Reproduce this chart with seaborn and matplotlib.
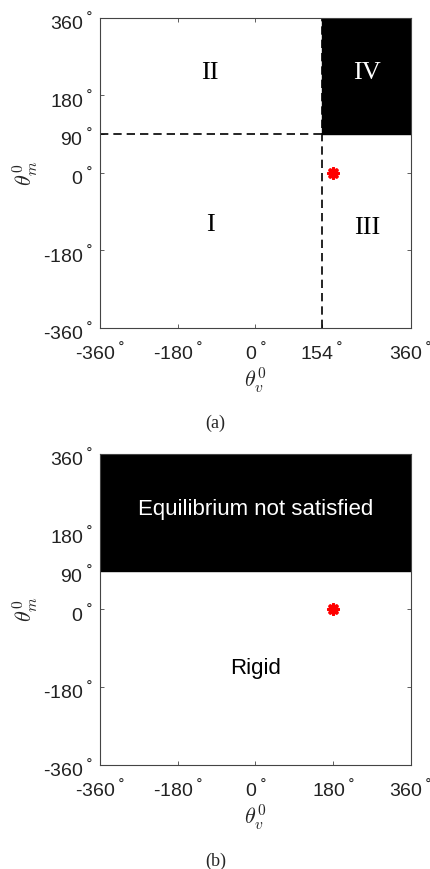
import numpy as np
import pandas as pd
import matplotlib
matplotlib.use("Agg")
import matplotlib.pyplot as plt
import matplotlib.transforms as mtransforms
import seaborn as sns

sns.set_style("ticks")
plt.rcParams['font.family'] = ['Liberation Sans', 'DejaVu Sans']
plt.rcParams['mathtext.fontset'] = 'cm'

# data
theta_range = [-360, 360]
xticks_a = [-360, -180, 0, 154, 360]
xticks_b = [-360, -180, 0, 180, 360]
yticks = [-360, -180, 0, 90, 180, 360]
theta_v_crit = 154
theta_m_crit = 90
point = pd.DataFrame({"theta_v": [180], "theta_m": [0]})

labels_a = ["I", "II", "III", "IV"]
labels_a_pos = [(-105, -120), (-105, 232), (258, -128), (258, 232)]
labels_b = ["Equilibrium not satisfied", "Rigid"]
labels_b_pos = [(0, 231), (0, -137)]


def deg(v):
    return f"{v}$\\,^{{\\degree}}$"


def setup(ax, xt):
    ax.set_xlim(theta_range)
    ax.set_ylim(theta_range)
    ax.set_xticks(xt)
    ax.set_xticklabels([deg(v) for v in xt], fontsize=14, color="#222222",
                       math_fontfamily="dejavusans")
    ax.set_yticks(yticks)
    ax.set_yticklabels([deg(v) for v in yticks], fontsize=14, color="#222222",
                       math_fontfamily="dejavusans")
    ax.tick_params(axis="both", direction="in", length=3, width=0.6, color="#444444",
                   top=True, right=True)
    ax.tick_params(axis="x", pad=10)
    ax.tick_params(axis="y", pad=5)
    # nudge y tick labels down a little (matlab centres the whole label)
    shift = mtransforms.ScaledTranslation(0, -3 / 100, ax.figure.dpi_scale_trans)
    for t in ax.get_yticklabels():
        t.set_transform(t.get_transform() + shift)
    for s in ax.spines.values():
        s.set_color("#444444")
        s.set_linewidth(0.8)
    ax.set_xlabel(r"$\theta_v^0$", fontsize=16, labelpad=1)
    ax.set_ylabel(r"$\theta_m^0$", fontsize=16, labelpad=2)


fig = plt.figure(figsize=(4.31, 8.69), dpi=100)

# (a)
ax1 = fig.add_axes([0.232, 0.6226, 0.7216, 0.3567])
xs = np.array([theta_v_crit, theta_range[1]])
ax1.fill_between(xs, theta_m_crit, theta_range[1], color="black", zorder=1)
ax1.axvline(theta_v_crit, color="black", ls=(0, (5, 3)), lw=1.2, zorder=2)
ax1.axhline(theta_m_crit, color="black", ls=(0, (5, 3)), lw=1.2, zorder=2)
sns.scatterplot(data=point, x="theta_v", y="theta_m", ax=ax1, marker=(8, 2, 0),
                s=45, color="red", edgecolor="red", linewidth=2.5, zorder=3)
for lab, (x, y) in zip(labels_a, labels_a_pos):
    ax1.text(x, y, lab, family="Liberation Serif", fontsize=19,
             color="white" if lab == "IV" else "black", ha="center", va="center")
setup(ax1, xticks_a)
fig.text(0.5, 1 - 423 / 869, "(a)", family="Liberation Serif", fontsize=13,
         ha="center", va="center")

# (b)
ax2 = fig.add_axes([0.232, 0.1197, 0.7216, 0.3579])
xs = np.array(theta_range)
ax2.fill_between(xs, theta_m_crit, theta_range[1], color="black", zorder=1)
sns.scatterplot(data=point, x="theta_v", y="theta_m", ax=ax2, marker=(8, 2, 0),
                s=45, color="red", edgecolor="red", linewidth=2.5, zorder=3)
for lab, (x, y) in zip(labels_b, labels_b_pos):
    ax2.text(x, y, lab, fontsize=16,
             color="white" if lab.startswith("Equ") else "black",
             ha="center", va="center")
setup(ax2, xticks_b)
fig.text(0.5, 1 - 861 / 869, "(b)", family="Liberation Serif", fontsize=13,
         ha="center", va="center")

fig.savefig("out.png", dpi=100)
